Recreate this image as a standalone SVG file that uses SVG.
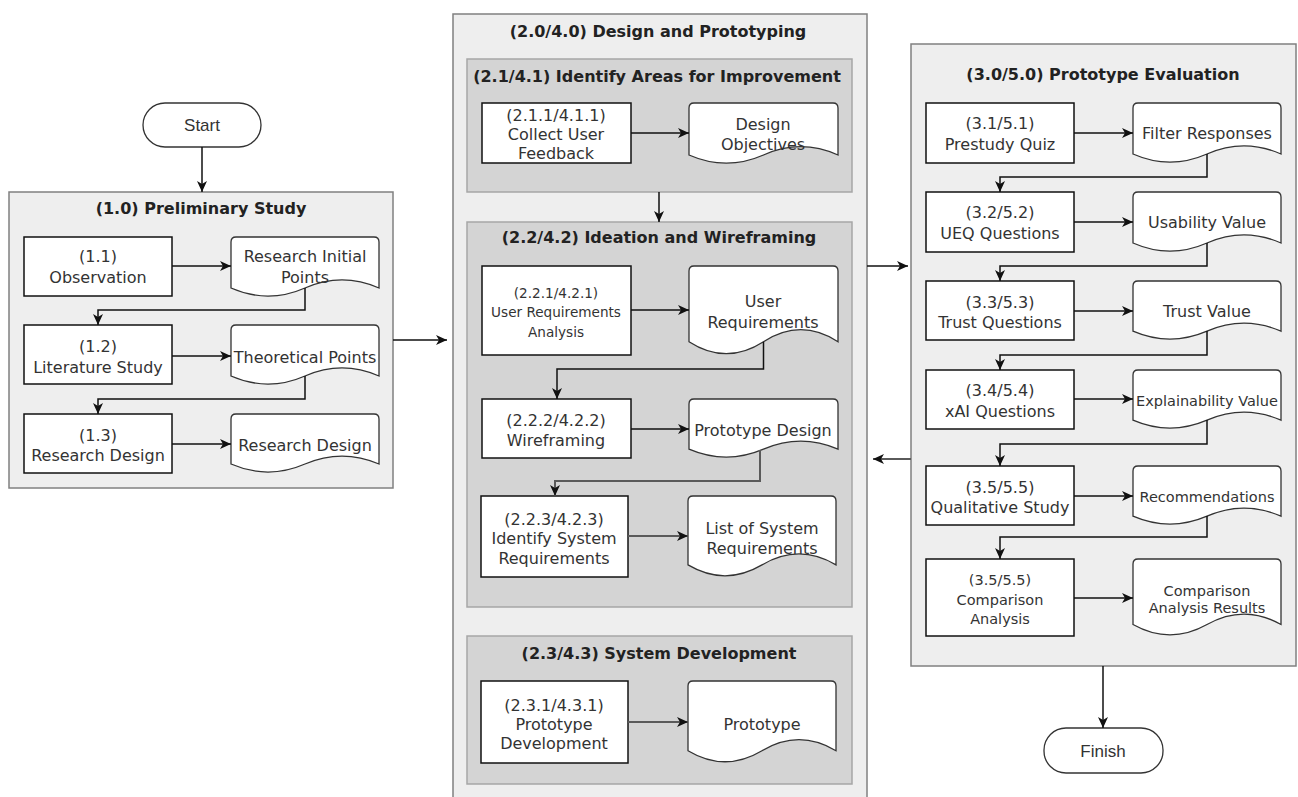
<svg xmlns="http://www.w3.org/2000/svg" width="1298" height="797" viewBox="0 0 1298 797">
  <style>
    .outer { fill: #eeeeee; stroke: #808080; stroke-width: 1.5; }
    .inner { fill: #d4d4d4; stroke: #a6a6a6; stroke-width: 1.5; }
    .box { fill: #ffffff; stroke: #111111; stroke-width: 1.5; }
    .doc { fill: #ffffff; stroke: #333333; stroke-width: 1.3; }
    .term { fill: #ffffff; stroke: #333333; stroke-width: 1.3; }
    .edge { fill: none; stroke: #111111; stroke-width: 1.5; }
    .edge-soft { fill: none; stroke: #5a5a5a; stroke-width: 2; }
    text { font-family: "DejaVu Sans", Verdana, sans-serif; font-size: 16px; fill: #333333; text-anchor: middle; dominant-baseline: central; }
    .title { font-weight: bold; fill: #222222; }
    .sm { font-size: 14.5px; }
    .xs { font-size: 13.6px; }
    .term-label { font-family: "Liberation Sans", Arial, sans-serif; font-size: 17px; }
  </style>
  <defs>
    <marker id="arrow" viewBox="-12 -6 13 12" refX="0" refY="0" markerWidth="13" markerHeight="12" markerUnits="userSpaceOnUse" orient="auto">
      <path d="M0,0 L-11,-5 L-8,0 L-11,5 Z" fill="#111111"/>
    </marker>
  </defs>

  <!-- containers -->
  <g id="preliminary-study">
    <rect class="outer" x="9" y="192" width="384" height="296"/>
    <text class="title" x="201" y="208">(1.0) Preliminary Study</text>
  </g>
  <g id="design-prototyping">
    <rect class="outer" x="453" y="14" width="414" height="800"/>
    <text class="title" x="658" y="31">(2.0/4.0) Design and Prototyping</text>
  </g>
  <g id="identify-areas">
    <rect class="inner" x="467" y="59" width="385" height="133"/>
    <text class="title" x="657" y="76">(2.1/4.1) Identify Areas for Improvement</text>
  </g>
  <g id="ideation-wireframing">
    <rect class="inner" x="467" y="222" width="385" height="385"/>
    <text class="title" x="659" y="237">(2.2/4.2) Ideation and Wireframing</text>
  </g>
  <g id="system-development">
    <rect class="inner" x="467" y="636" width="385" height="148"/>
    <text class="title" x="659" y="653">(2.3/4.3) System Development</text>
  </g>
  <g id="prototype-evaluation">
    <rect class="outer" x="911" y="44" width="385" height="622"/>
    <text class="title" x="1103" y="74">(3.0/5.0) Prototype Evaluation</text>
  </g>

  <!-- terminators -->
  <g id="start">
    <rect class="term" x="143" y="103" width="118" height="44" rx="22"/>
    <text class="term-label" x="202" y="125">Start</text>
  </g>
  <g id="finish">
    <rect class="term" x="1044" y="728" width="119" height="45" rx="22"/>
    <text class="term-label" x="1103" y="751">Finish</text>
  </g>

  <!-- (1.x) steps -->
  <g id="n1-1">
    <rect class="box" x="24" y="237" width="148" height="59"/>
    <text x="98" y="256">(1.1)</text>
    <text x="98" y="277">Observation</text>
  </g>
  <g id="d1-1">
    <path class="doc" d="M231,288 L231,242 Q231,237 236,237 L374,237 Q379,237 379,242 L379,288 Q342,271.8 305,288 Q268,304.2 231,288 Z"/>
    <text x="305" y="256">Research Initial</text>
    <text x="305" y="277">Points</text>
  </g>
  <g id="n1-2">
    <rect class="box" x="24" y="325" width="148" height="59"/>
    <text x="98" y="346">(1.2)</text>
    <text x="98" y="367">Literature Study</text>
  </g>
  <g id="d1-2">
    <path class="doc" d="M231,376 L231,330 Q231,325 236,325 L374,325 Q379,325 379,330 L379,376 Q342,359.8 305,376 Q268,392.2 231,376 Z"/>
    <text x="305" y="357">Theoretical Points</text>
  </g>
  <g id="n1-3">
    <rect class="box" x="24" y="414" width="148" height="59"/>
    <text x="98" y="435">(1.3)</text>
    <text x="98" y="455">Research Design</text>
  </g>
  <g id="d1-3">
    <path class="doc" d="M231,464 L231,419 Q231,414 236,414 L374,414 Q379,414 379,419 L379,464 Q342,448.2 305,464 Q268,480.1 231,464 Z"/>
    <text x="305" y="445">Research Design</text>
  </g>

  <!-- (2.x) steps -->
  <g id="n2-1-1">
    <rect class="box" x="482" y="103" width="149" height="60"/>
    <text x="556" y="115">(2.1.1/4.1.1)</text>
    <text x="556" y="134">Collect User</text>
    <text x="556" y="153">Feedback</text>
  </g>
  <g id="d2-1-1">
    <path class="doc" d="M689,155 L689,108 Q689,103 694,103 L833,103 Q838,103 838,108 L838,155 Q800.75,138.4 763.5,155 Q726.25,171.3 689,155 Z"/>
    <text x="763" y="124">Design</text>
    <text x="763" y="144">Objectives</text>
  </g>
  <g id="n2-2-1">
    <rect class="box" x="482" y="266" width="149" height="89"/>
    <text class="xs" x="556" y="293">(2.2.1/4.2.1)</text>
    <text class="xs" x="556" y="312">User Requirements</text>
    <text class="xs" x="556" y="332">Analysis</text>
  </g>
  <g id="d2-2-1">
    <path class="doc" d="M689,341.7 L689,271 Q689,266 694,266 L833,266 Q838,266 838,271 L838,341.7 Q800.75,317.6 763.5,341.7 Q726.25,365.7 689,341.7 Z"/>
    <text x="763" y="301">User</text>
    <text x="763" y="322">Requirements</text>
  </g>
  <g id="n2-2-2">
    <rect class="box" x="482" y="399" width="149" height="59"/>
    <text x="556" y="420">(2.2.2/4.2.2)</text>
    <text x="556" y="440">Wireframing</text>
  </g>
  <g id="d2-2-2">
    <path class="doc" d="M689,449.2 L689,404 Q689,399 694,399 L833,399 Q838,399 838,404 L838,449.2 Q800.75,433.2 763.5,449.2 Q726.25,465.1 689,449.2 Z"/>
    <text x="763" y="430">Prototype Design</text>
  </g>
  <g id="n2-2-3">
    <rect class="box" x="481" y="496" width="147" height="81"/>
    <text x="554" y="519">(2.2.3/4.2.3)</text>
    <text x="554" y="538">Identify System</text>
    <text x="554" y="558">Requirements</text>
  </g>
  <g id="d2-2-3">
    <path class="doc" d="M688,564.9 L688,501 Q688,496 693,496 L831,496 Q836,496 836,501 L836,564.9 Q799,543 762,564.9 Q725,586.7 688,564.9 Z"/>
    <text x="762" y="528">List of System</text>
    <text x="762" y="548">Requirements</text>
  </g>
  <g id="n2-3-1">
    <rect class="box" x="481" y="681" width="147" height="82"/>
    <text x="554" y="705">(2.3.1/4.3.1)</text>
    <text x="554" y="724">Prototype</text>
    <text x="554" y="743">Development</text>
  </g>
  <g id="d2-3-1">
    <path class="doc" d="M688,750.7 L688,686 Q688,681 693,681 L831,681 Q836,681 836,686 L836,750.7 Q799,728.6 762,750.7 Q725,772.8 688,750.7 Z"/>
    <text x="762" y="724">Prototype</text>
  </g>

  <!-- (3.x) steps -->
  <g id="n3-1">
    <rect class="box" x="926" y="103" width="148" height="60"/>
    <text x="1000" y="123">(3.1/5.1)</text>
    <text x="1000" y="144">Prestudy Quiz</text>
  </g>
  <g id="d3-1">
    <path class="doc" d="M1133,154 L1133,108 Q1133,103 1138,103 L1276,103 Q1281,103 1281,108 L1281,154 Q1244,137.8 1207,154 Q1170,170.2 1133,154 Z"/>
    <text x="1207" y="133">Filter Responses</text>
  </g>
  <g id="n3-2">
    <rect class="box" x="926" y="192" width="148" height="60"/>
    <text x="1000" y="212">(3.2/5.2)</text>
    <text x="1000" y="233">UEQ Questions</text>
  </g>
  <g id="d3-2">
    <path class="doc" d="M1133,243 L1133,197 Q1133,192 1138,192 L1276,192 Q1281,192 1281,197 L1281,243 Q1244,226.8 1207,243 Q1170,259.2 1133,243 Z"/>
    <text x="1207" y="222">Usability Value</text>
  </g>
  <g id="n3-3">
    <rect class="box" x="926" y="281" width="148" height="59"/>
    <text x="1000" y="302">(3.3/5.3)</text>
    <text x="1000" y="322">Trust Questions</text>
  </g>
  <g id="d3-3">
    <path class="doc" d="M1133,331.2 L1133,286 Q1133,281 1138,281 L1276,281 Q1281,281 1281,286 L1281,331.2 Q1244,315.2 1207,331.2 Q1170,347.1 1133,331.2 Z"/>
    <text x="1207" y="311">Trust Value</text>
  </g>
  <g id="n3-4">
    <rect class="box" x="926" y="370" width="148" height="59"/>
    <text x="1000" y="390">(3.4/5.4)</text>
    <text x="1000" y="411">xAI Questions</text>
  </g>
  <g id="d3-4">
    <path class="doc" d="M1133,420.2 L1133,375 Q1133,370 1138,370 L1276,370 Q1281,370 1281,375 L1281,420.2 Q1244,404.2 1207,420.2 Q1170,436.1 1133,420.2 Z"/>
    <text class="sm" x="1207" y="401">Explainability Value</text>
  </g>
  <g id="n3-5">
    <rect class="box" x="926" y="466" width="148" height="59"/>
    <text x="1000" y="487">(3.5/5.5)</text>
    <text x="1000" y="507">Qualitative Study</text>
  </g>
  <g id="d3-5">
    <path class="doc" d="M1133,516.2 L1133,471 Q1133,466 1138,466 L1276,466 Q1281,466 1281,471 L1281,516.2 Q1244,500.2 1207,516.2 Q1170,532.1 1133,516.2 Z"/>
    <text class="sm" x="1207" y="497">Recommendations</text>
  </g>
  <g id="n3-6">
    <rect class="box" x="926" y="559" width="148" height="77"/>
    <text class="sm" x="1000" y="580">(3.5/5.5)</text>
    <text class="sm" x="1000" y="600">Comparison</text>
    <text class="sm" x="1000" y="619">Analysis</text>
  </g>
  <g id="d3-6">
    <path class="doc" d="M1133,624.5 L1133,564 Q1133,559 1138,559 L1276,559 Q1281,559 1281,564 L1281,624.5 Q1244,603.7 1207,624.5 Q1170,645.2 1133,624.5 Z"/>
    <text class="sm" x="1207" y="591">Comparison</text>
    <text class="sm" x="1207" y="608">Analysis Results</text>
  </g>

  <!-- connectors -->
  <g id="connectors">
    <path class="edge" marker-end="url(#arrow)" d="M202,147 L202,192"/>
    <path class="edge" marker-end="url(#arrow)" d="M172,266 L231,266"/>
    <path class="edge" marker-end="url(#arrow)" d="M305,288 L305,310 L98,310 L98,325"/>
    <path class="edge" marker-end="url(#arrow)" d="M172,356 L231,356"/>
    <path class="edge" marker-end="url(#arrow)" d="M305,376 L305,399 L98,399 L98,414"/>
    <path class="edge" marker-end="url(#arrow)" d="M172,444 L231,444"/>
    <path class="edge" marker-end="url(#arrow)" d="M393,340 L447,340"/>

    <path class="edge" marker-end="url(#arrow)" d="M631,133 L689,133"/>
    <path class="edge" marker-end="url(#arrow)" d="M659,192 L659,222"/>
    <path class="edge" marker-end="url(#arrow)" d="M631,310 L689,310"/>
    <path class="edge" marker-end="url(#arrow)" d="M763.5,341.7 L763.5,369 L557,369 L557,399"/>
    <path class="edge" marker-end="url(#arrow)" d="M631,429 L689,429"/>
    <path class="edge-soft" marker-end="url(#arrow)" d="M760,450 L760,481 L555,481 L555,496"/>
    <path class="edge-soft" marker-end="url(#arrow)" d="M628,536 L688,536"/>
    <path class="edge-soft" marker-end="url(#arrow)" d="M628,722 L688,722"/>

    <path class="edge" marker-end="url(#arrow)" d="M867,266 L908,266"/>
    <path class="edge-soft" marker-end="url(#arrow)" d="M911,459 L873,459"/>

    <path class="edge" marker-end="url(#arrow)" d="M1074,133 L1133,133"/>
    <path class="edge" marker-end="url(#arrow)" d="M1207,154 L1207,177 L1000,177 L1000,192"/>
    <path class="edge" marker-end="url(#arrow)" d="M1074,222 L1133,222"/>
    <path class="edge" marker-end="url(#arrow)" d="M1207,243 L1207,266 L1000,266 L1000,281"/>
    <path class="edge" marker-end="url(#arrow)" d="M1074,311 L1133,311"/>
    <path class="edge" marker-end="url(#arrow)" d="M1207,331 L1207,355 L1000,355 L1000,370"/>
    <path class="edge" marker-end="url(#arrow)" d="M1074,399 L1133,399"/>
    <path class="edge" marker-end="url(#arrow)" d="M1207,420 L1207,444 L1000,444 L1000,466"/>
    <path class="edge" marker-end="url(#arrow)" d="M1074,496 L1133,496"/>
    <path class="edge" marker-end="url(#arrow)" d="M1207,516 L1207,537 L1000,537 L1000,559"/>
    <path class="edge" marker-end="url(#arrow)" d="M1074,598 L1133,598"/>
    <path class="edge" marker-end="url(#arrow)" d="M1103,666 L1103,728"/>
  </g>
</svg>
